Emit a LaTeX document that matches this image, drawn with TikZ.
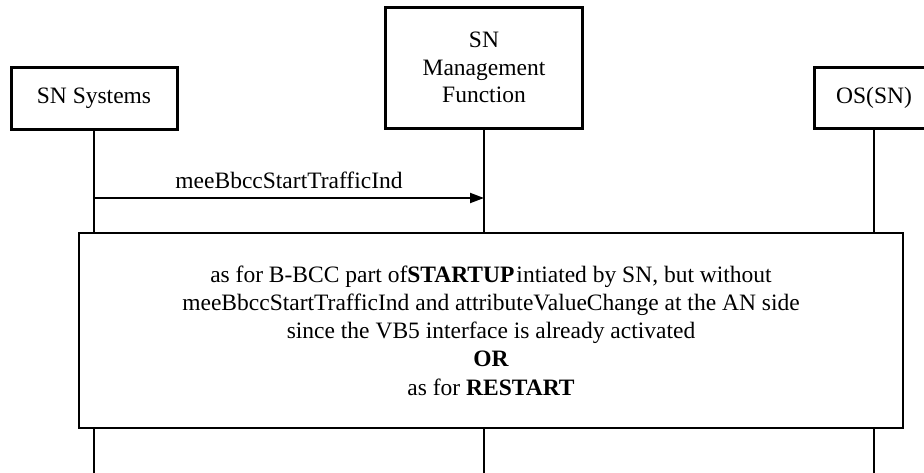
\documentclass[tikz,border=0pt]{standalone}
\usepackage{fontspec}
\setmainfont{Liberation Serif}
\usetikzlibrary{arrows.meta,calc}

\tikzset{
  party/.style={draw, line width=3pt, fill=white, align=center, inner sep=0pt,
                font=\fontsize{23.5}{27.5}\selectfont},
  life/.style={line width=2pt},
  msg/.style={line width=2pt, -{Triangle[length=14pt,width=10pt]}},
  notebox/.style={draw, line width=1.1pt, fill=white, align=center, inner sep=0pt,
                  font=\fontsize{23.5}{28.3}\selectfont},
  lbl/.style={font=\fontsize{23.5}{27.5}\selectfont, inner sep=0pt}
}

\begin{document}
\begin{tikzpicture}[x=1pt,y=-1pt]
  \useasboundingbox (0,0) rectangle (924,472);
  \clip (0,0) rectangle (924,472);

  % participants
  \node[party, minimum width=166pt, minimum height=62pt] (sys) at (94,98) {SN Systems};
  \node[party, minimum width=197pt, minimum height=121pt] (mf) at (484,67.5)
       {SN\\Management\\Function};
  \node[party, minimum width=120pt, minimum height=61pt] (os) at (874,98) {OS(SN)};

  % procedure reference box
  \node[notebox, minimum width=824pt, minimum height=195pt] (note) at (491,330.5)
    {as for B-BCC part of\textbf{STARTUP}\hspace{2pt}intiated by SN, but without\\
     meeBbccStartTrafficInd and attributeValueChange at the AN side\\
     since the VB5 interface is already activated\\
     \textbf{OR}\\
     as for \textbf{RESTART}};

  % lifelines
  \coordinate (bottom) at (0,476);
  \foreach \p in {sys,mf,os}{
    \draw[life] (\p.south) -- (\p |- note.north);
    \draw[life] (\p |- note.south) -- (\p |- bottom);
  }

  % message
  \coordinate (m1) at (0,198);
  \draw[msg] (sys |- m1) -- (mf |- m1)
    node[lbl, pos=0.5, above=8pt] (m1lbl) {meeBbccStartTrafficInd};
\end{tikzpicture}
\end{document}
